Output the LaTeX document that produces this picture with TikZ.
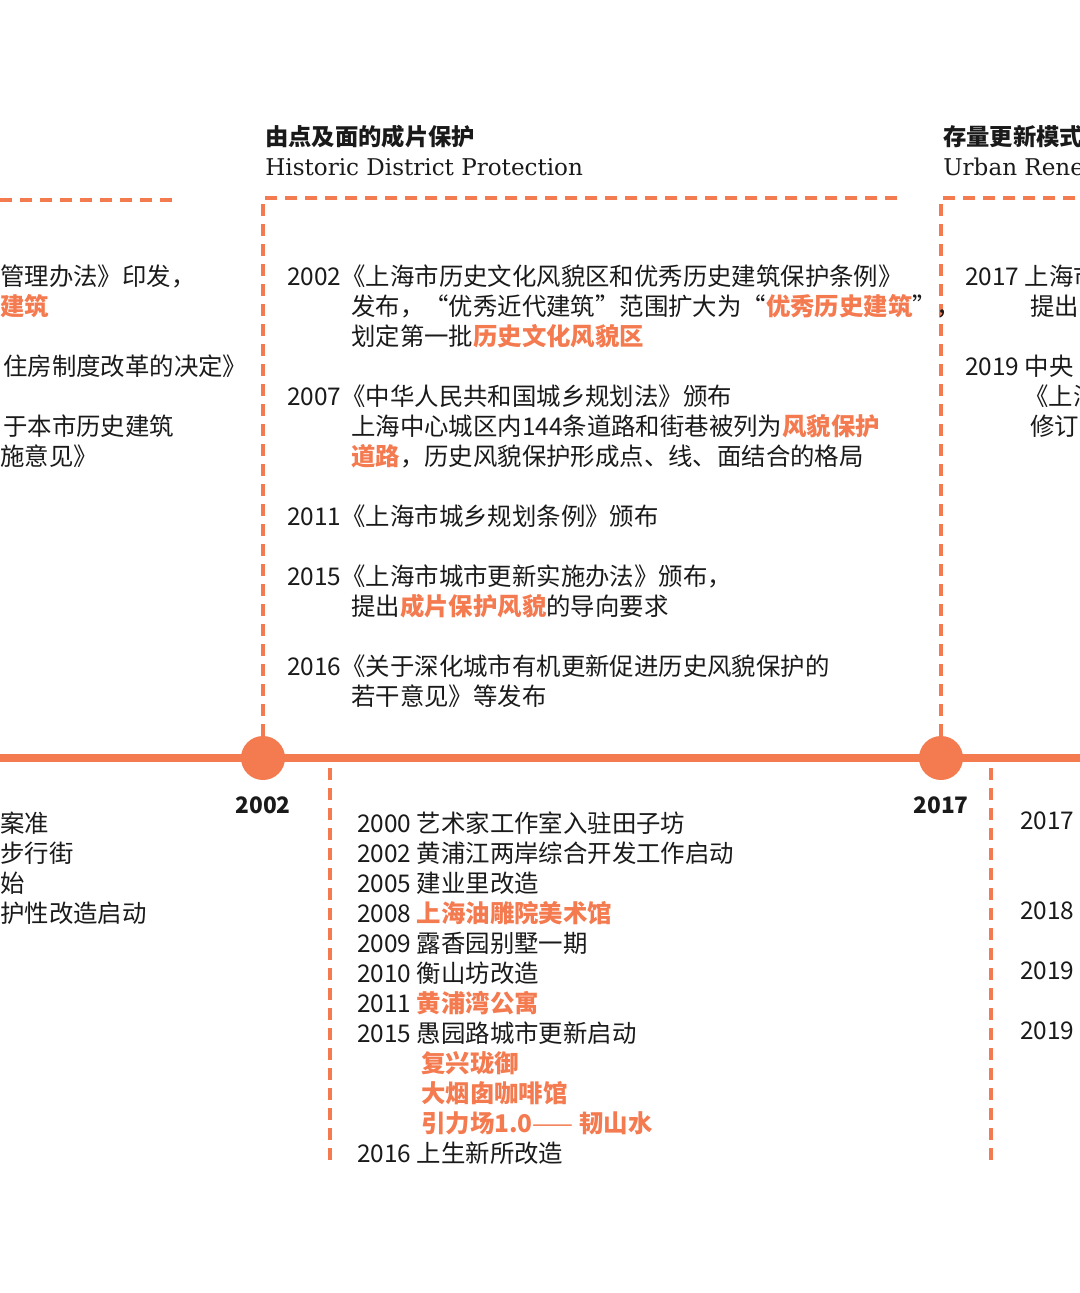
\documentclass[tikz,border=0pt]{standalone}
\usepackage{fontspec}
\setmainfont{Noto Sans CJK SC}
\newfontfamily\headen{DejaVu Serif}
\definecolor{acc}{HTML}{F47A50}
\definecolor{ink}{HTML}{1A1A1A}
\begin{document}
\begin{tikzpicture}[x=0.75pt,y=-0.75pt,
  txt/.style={anchor=west,inner sep=0pt,font=\fontsize{18.3}{20}\selectfont,text=ink},
  dline/.style={draw=acc,line width=2.4pt,dash pattern=on 9pt off 6pt},
  yr/.style={inner sep=0pt,font=\bfseries\fontsize{17}{19}\selectfont,text=ink},
  head/.style={anchor=west,inner sep=0pt,text=ink}]
\useasboundingbox (0,0) rectangle (1080,1293);
\clip (0,0) rectangle (1080,1293);
% timeline
\coordinate (tl) at (0,758); \coordinate (tr) at (1080,758);
\draw[acc,line width=6.5pt] (tl) -- (tr);
\node[circle,fill=acc,minimum size=33pt,inner sep=0pt] (c1) at (263,758) {};
\node[circle,fill=acc,minimum size=33pt,inner sep=0pt] (c2) at (941,758) {};
% top dashed frames
\coordinate (la) at (0,200); \coordinate (lb) at (175,200);
\draw[dline] (la) -- (lb);
\coordinate (ma) at (263,198); \coordinate (mb) at (905,198);
\draw[dline] (c1.north) -- (ma) -- (mb);
\coordinate (ra) at (941,198); \coordinate (rb) at (1080,198);
\draw[dline] (c2.north) -- (ra) -- (rb);
% bottom dashed lines
\coordinate (b1a) at (330,768); \coordinate (b1b) at (330,1165);
\coordinate (b2a) at (991,768); \coordinate (b2b) at (991,1165);
\draw[dline] (b1a) -- (b1b);
\draw[dline] (b2a) -- (b2b);
% years
\node[yr] (y1) at (263,805) {2002};
\node[yr] (y2) at (941,805) {2017};
% headings
\node[head,font=\bfseries\fontsize{17.5}{19}\selectfont] (h1) at (265,137) {由点及面的成片保护};
\node[head,font=\headen\fontsize{17.3}{19}\selectfont] (h2) at (265,167) {Historic District Protection};
\node[head,font=\bfseries\fontsize{17.5}{19}\selectfont] (h3) at (943,137) {存量更新模式};
\node[head,font=\headen\fontsize{17.3}{19}\selectfont] (h4) at (943,167) {Urban Renewal};
% middle top
\node[txt] (m1) at (287,276) {2002《上海市历史文化风貌区和优秀历史建筑保护条例》};
\node[txt] (m2) at (351,306) {发布，“优秀近代建筑”范围扩大为“{\color{acc}\bfseries 优秀历史建筑}”，};
\node[txt] (m3) at (351,336) {划定第一批{\color{acc}\bfseries 历史文化风貌区}};
\node[txt] (m4) at (287,396) {2007《中华人民共和国城乡规划法》颁布};
\node[txt] (m5) at (351,426) {上海中心城区内144条道路和街巷被列为{\color{acc}\bfseries 风貌保护}};
\node[txt] (m6) at (351,456) {{\color{acc}\bfseries 道路}，历史风貌保护形成点、线、面结合的格局};
\node[txt] (m7) at (287,516) {2011《上海市城乡规划条例》颁布};
\node[txt] (m8) at (287,576) {2015《上海市城市更新实施办法》颁布，};
\node[txt] (m9) at (351,606) {提出{\color{acc}\bfseries 成片保护风貌}的导向要求};
\node[txt] (m10) at (287,666) {2016《关于深化城市有机更新促进历史风貌保护的};
\node[txt] (m11) at (351,696) {若干意见》等发布};
% left top
\node[txt] (l1) at (0,276) {管理办法》印发，};
\node[txt,text=acc,font=\bfseries\fontsize{18.3}{20}\selectfont] (l2) at (0,306) {建筑};
\node[txt] (l3) at (3,366) {住房制度改革的决定》};
\node[txt] (l4) at (3,426) {于本市历史建筑};
\node[txt] (l5) at (0,456) {施意见》};
% right top
\node[txt] (r1) at (965,276) {2017 上海市};
\node[txt] (r2) at (1030,306) {提出};
\node[txt] (r3) at (965,366) {2019 中央};
\node[txt] (r4) at (1024,396) {《上海};
\node[txt] (r5) at (1030,426) {修订};
% bottom middle
\node[txt] (n1) at (357,823) {2000 艺术家工作室入驻田子坊};
\node[txt] (n2) at (357,853) {2002 黄浦江两岸综合开发工作启动};
\node[txt] (n3) at (357,883) {2005 建业里改造};
\node[txt] (n4) at (357,913) {2008 {\color{acc}\bfseries 上海油雕院美术馆}};
\node[txt] (n5) at (357,943) {2009 露香园别墅一期};
\node[txt] (n6) at (357,973) {2010 衡山坊改造};
\node[txt] (n7) at (357,1003) {2011 {\color{acc}\bfseries 黄浦湾公寓}};
\node[txt] (n8) at (357,1033) {2015 愚园路城市更新启动};
\node[txt,text=acc,font=\bfseries\fontsize{18.3}{20}\selectfont] (n9) at (421,1063) {复兴珑御};
\node[txt,text=acc,font=\bfseries\fontsize{18.3}{20}\selectfont] (n10) at (421,1093) {大烟囱咖啡馆};
\node[txt,text=acc,font=\bfseries\fontsize{18.3}{20}\selectfont] (n11) at (421,1123) {引力场1.0{\mdseries ——} 韧山水};
\node[txt] (n12) at (357,1153) {2016 上生新所改造};
% bottom left
\node[txt] (p1) at (0,823) {案准};
\node[txt] (p2) at (0,853) {步行街};
\node[txt] (p3) at (0,883) {始};
\node[txt] (p4) at (0,913) {护性改造启动};
% bottom right
\node[txt] (q1) at (1020,821) {2017};
\node[txt] (q2) at (1020,911) {2018};
\node[txt] (q3) at (1020,971) {2019};
\node[txt] (q4) at (1020,1031) {2019};
\end{tikzpicture}
\end{document}
